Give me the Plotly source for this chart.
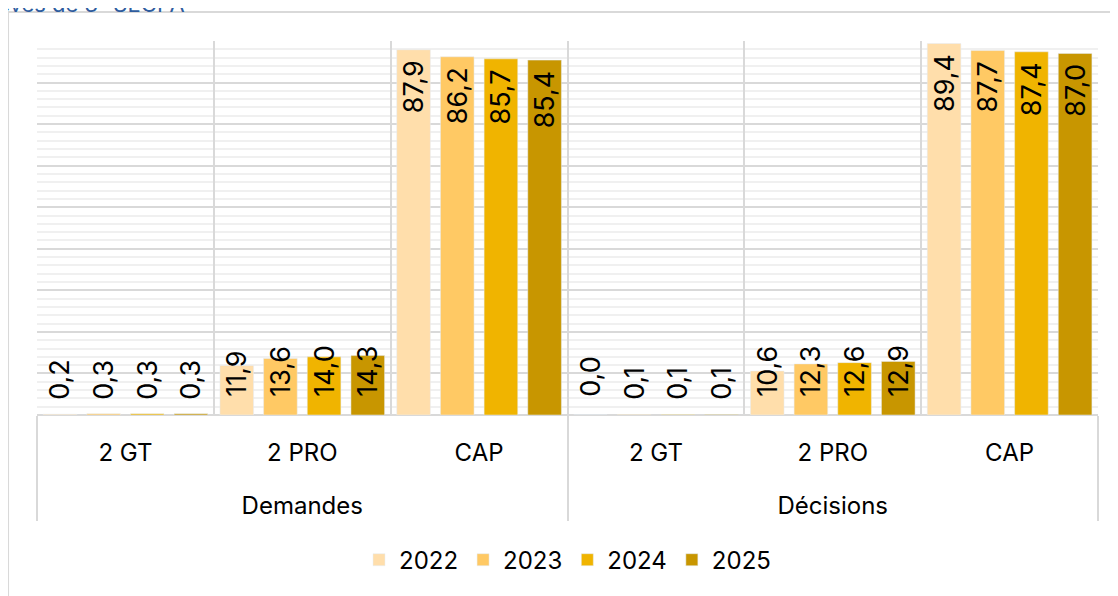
import plotly.graph_objects as go

years = ["2022", "2023", "2024", "2025"]
groups = ["Demandes", "Demandes", "Demandes", "Décisions", "Décisions", "Décisions"]
cats = ["2 GT", "2 PRO", "CAP", "2 GT", "2 PRO", "CAP"]
v2022 = [0.2, 11.9, 87.9, 0.0, 10.6, 89.4]
v2023 = [0.3, 13.6, 86.2, 0.1, 12.3, 87.7]
v2024 = [0.3, 14.0, 85.7, 0.1, 12.6, 87.4]
v2025 = [0.3, 14.3, 85.4, 0.1, 12.9, 87.0]
colors = ["#FFDEAB", "#FFC964", "#F0B400", "#C89600"]

values = [v2022, v2023, v2024, v2025]
FONT = "Inter"
NB = "\u00a0"
PAD = "<span style='font-size:34px'>" + NB + "</span>"
group_labels = ["<br>" + g for g in groups]
cat_labels = [PAD + c + PAD for c in cats]

fig = go.Figure()
for yr, vals, col in zip(years, values, colors):
    small = [v if c != "CAP" else None for v, c in zip(vals, cats)]
    large = [v if c == "CAP" else None for v, c in zip(vals, cats)]
    fig.add_trace(go.Bar(
        x=[group_labels, cat_labels], y=small, name=yr, marker_color=col,
        offsetgroup=yr, legendgroup=yr, showlegend=True,
        texttemplate=NB + NB + "%{y:.1f}", textangle=-90,
        textposition=["outside" if (v is not None and v == 0) else "inside" for v in small],
        insidetextanchor="start", constraintext="none",
        textfont=dict(family=FONT, size=27, color="black"),
        cliponaxis=False, hoverinfo="skip",
    ))
    fig.add_trace(go.Bar(
        x=[group_labels, cat_labels], y=large, name=yr, marker_color=col,
        offsetgroup=yr, legendgroup=yr, showlegend=False,
        texttemplate="%{y:.1f}" + NB, textangle=-90,
        textposition="inside", insidetextanchor="end", constraintext="none",
        textfont=dict(family=FONT, size=27, color="black"),
        cliponaxis=False, hoverinfo="skip",
    ))

fig.update_layout(
    width=1110, height=588,
    margin=dict(l=29, r=20, t=33, b=181, autoexpand=False),
    paper_bgcolor="white", plot_bgcolor="white",
    barmode="group", bargap=0.012, bargroupgap=0.23,
    separators=", ",
    font=dict(family=FONT, size=24, color="black"),
    showlegend=True,
    legend=dict(orientation="h", x=0.5, xanchor="center", y=-0.388, yanchor="middle",
                font=dict(family=FONT, size=24, color="black"), traceorder="normal"),
    xaxis=dict(
        type="multicategory", showgrid=True, gridcolor="#D9D9D9", gridwidth=2,
        showdividers=True, dividercolor="#D9D9D9", dividerwidth=2,
        tickfont=dict(family=FONT, size=24, color="black"),
        ticks="outside", ticklen=44, tickcolor="rgba(0,0,0,0)",
        ticklabelstandoff=21,
        showline=False, zeroline=False,
    ),
    yaxis=dict(
        range=[0, 90], dtick=10, showticklabels=False, ticks="",
        showgrid=True, gridcolor="#D9D9D9", gridwidth=2,
        zeroline=True, zerolinecolor="#D9D9D9", zerolinewidth=2,
        minor=dict(dtick=2, showgrid=True, gridcolor="#F0F0F0", gridwidth=2),
        showline=False,
    ),
)

fig.add_shape(type="rect", xref="paper", yref="paper",
              x0=-0.0273, x1=1.03, y0=-0.7, y1=1.0775,
              line=dict(color="#D9D9D9", width=2), fillcolor="rgba(0,0,0,0)", layer="below")

fig.add_annotation(text="élèves de 3<sup>e</sup> SEGPA", xref="paper", yref="paper",
                   x=0.1414, xanchor="right", y=1.058, yanchor="bottom", showarrow=False,
                   font=dict(family=FONT, size=22, color="#2E5C9E"))

fig.write_html("out.html")
